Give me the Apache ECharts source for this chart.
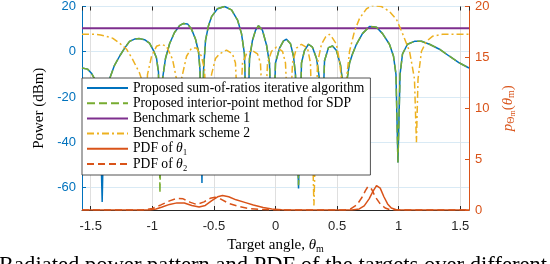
<!DOCTYPE html>
<html><head><meta charset="utf-8">
<script src="https://cdn.jsdelivr.net/npm/echarts@6/dist/echarts.min.js"></script>
<style>html,body{margin:0;padding:0;background:#fff}#c{width:550px;height:264px}</style>
</head><body><div id="c"></div>
<script>
// ---------- data ----------
const angleMin = -1.5708, angleMax = 1.5708;
const xTickLabels = [-1.5, -1, -0.5, 0, 0.5, 1, 1.5];
const leftTickLabels = [-60, -40, -20, 0, 20];
const rightTickLabels = [0, 5, 10, 15, 20];

const legendNames = [
  'Proposed sum-of-ratios iterative algorithm',
  'Proposed interior-point method for SDP',
  'Benchmark scheme 1',
  'Benchmark scheme 2',
  'PDF of θ₁',
  'PDF of θ₂'
];

// angles (rad) at which the proposed patterns were read
const sorAngles = [-1.5708,-1.526,-1.494,-1.469,-1.445,-1.425,-1.407,-1.392,-1.372,-1.347,-1.307,-1.266,-1.226,-1.185,-1.144,-1.104,-1.063,-1.023,-0.990,-0.966,-0.950,-0.938,-0.925,-0.917,-0.893,-0.860,-0.820,-0.779,-0.747,-0.714,-0.682,-0.649,-0.625,-0.613,-0.597,-0.584,-0.568,-0.544,-0.519,-0.471,-0.414,-0.357,-0.308,-0.276,-0.252,-0.231,-0.211,-0.187,-0.162,-0.138,-0.106,-0.073,-0.049,-0.024,0,0.032,0.065,0.089,0.122,0.146,0.162,0.187,0.211,0.235,0.268,0.300,0.333,0.357,0.373,0.398,0.430,0.463,0.495,0.528,0.548,0.560,0.576,0.601,0.625,0.657,0.706,0.763,0.820,0.869,0.925,0.958,0.978,0.994,1.011,1.031,1.071,1.128,1.185,1.250,1.331,1.412,1.494,1.5708];
// power (dBm), proposed sum-of-ratios
const sorPower = [-7.2,-7.7,-9.5,-12,-17,-26,-66.5,-27,-17,-12,-6,-2,1.5,4.6,5.6,5.8,5.3,3.8,0.5,-2.8,-9,-53,-20,-12,-3,3.5,8.5,11.5,12.5,12.3,10,5.5,0,-8,-58,-8,5,11.5,15.5,19,20,18.5,14,8,-1,-45,-3,5,9.5,11.5,9.5,3,-5,-45,-5,1.5,4.8,5.5,3.5,-2,-10,-60.5,-5,0.5,3.3,2,-3,-12,-42,-4,1.8,2.5,0.5,-6,-15,-40,-14,-5,-1,3.3,8,11.2,10.8,8,3.3,-2,-10,-49,-10,-1,3.3,4.6,4.6,3.3,1.1,-2,-5,-7.2];
// power (dBm), proposed interior-point SDP
const sdpPower = [-7.2,-7.7,-9.5,-12,-17,-26,-50,-27,-17,-12,-6,-2,1.5,4.6,5.6,5.8,5.3,3.8,0.5,-2.8,-9,-62.5,-20,-12,-3,3.5,8.5,11.5,12.5,12.3,10,5.5,0,-8,-50,-8,5,11.5,15.5,19,20,18.5,14,8,-1,-45,-3,5,9.5,11.5,9.5,3,-5,-45,-5,1.5,4.8,5.5,3.5,-2,-10,-59,-5,0.5,3.3,2,-3,-12,-42,-4,1.8,2.5,0.5,-6,-15,-40,-14,-5,-1,3.3,8,11.2,10.8,8,3.3,-2,-10,-49,-10,-1,3.3,4.6,4.6,3.3,1.1,-2,-5,-7.2];

// benchmark scheme 1 (flat)
const bench1Angles = [-1.5708, 1.5708];
const bench1Power = [10.4, 10.4];

// benchmark scheme 2
const bench2Angles = [-1.5708,-1.469,-1.420,-1.372,-1.323,-1.266,-1.209,-1.161,-1.104,-1.088,-1.063,-1.039,-1.006,-0.966,-0.925,-0.885,-0.836,-0.804,-0.783,-0.763,-0.722,-0.682,-0.641,-0.601,-0.576,-0.552,-0.519,-0.487,-0.455,-0.398,-0.349,-0.325,-0.296,-0.268,-0.235,-0.195,-0.146,-0.122,-0.093,-0.065,-0.032,0.008,0.057,0.081,0.110,0.138,0.170,0.211,0.260,0.284,0.312,0.341,0.373,0.406,0.438,0.463,0.495,0.519,0.536,0.552,0.576,0.601,0.641,0.682,0.739,0.787,0.860,0.925,0.982,1.031,1.088,1.112,1.128,1.144,1.157,1.185,1.226,1.274,1.356,1.5708];
const bench2Power = [7.7,7.7,7.4,6.8,6,3.8,1.1,-3.3,-9.4,-12,-40,-10,-2,2.4,3.3,2.4,-3.3,-12,-40,-12,-2,1.6,1.6,-2,-8,-40,-10,-3,-1,0.7,-1,-5,-40,-5,-1,0.7,-1,-5,-40,-5,0.2,2,0.2,-5,-40,-5,1.6,3.3,1.6,-5,-68,-5,3.3,6.5,7.7,6,3.3,-4,-12,-40,-12,0.2,9,14.7,19,20.4,20,17.8,14.3,8.1,0.2,-7,-12,-40,-12,0.2,4.6,6.8,7.7,7.7];

// PDF of theta_1
const pdf1Angles = [-1.5708,-1.02,-0.97,-0.92,-0.86,-0.80,-0.74,-0.68,-0.62,-0.57,-0.52,-0.47,-0.43,-0.38,-0.32,-0.25,-0.18,-0.10,-0.03,0.05,0.12,0.62,0.68,0.72,0.76,0.79,0.82,0.85,0.88,0.91,0.94,0.98,1.02,1.5708];
const pdf1Values = [0,0,0.1,0.3,0.55,0.7,0.68,0.45,0.3,0.45,0.9,1.3,1.42,1.3,1.0,0.75,0.5,0.25,0.1,0.02,0,0,0.1,0.4,1.1,1.8,2.4,2.15,1.3,0.6,0.2,0.03,0,0];
// PDF of theta_2
const pdf2Angles = [-1.5708,-1.08,-1.0,-0.93,-0.86,-0.80,-0.75,-0.69,-0.64,-0.58,-0.53,-0.49,-0.44,-0.38,-0.30,-0.22,-0.12,-0.02,0.56,0.61,0.66,0.70,0.73,0.75,0.78,0.81,0.85,0.89,0.93,0.97,1.5708];
const pdf2Values = [0,0,0.15,0.5,0.9,1.15,1.1,0.75,0.55,0.8,1.15,1.25,1.05,0.65,0.35,0.15,0.05,0,0,0.1,0.5,1.2,1.9,2.3,2.05,1.3,0.6,0.2,0.03,0,0];

const captionText = 'Radiated power pattern and PDF of the targets over different';

// ---------- chart ----------
const zip = (a, b) => a.map((x, i) => [x, b[i]]);
const near = (arr, v) => arr.some(t => Math.abs(t - v) < 1e-6);
const serif = 'Liberation Serif';
const blue = '#0072BD', green = '#77AC30', purple = '#7E2F8E', yellow = '#EDB120', orange = '#D95319';

const legendRich = {
  r: {fontFamily: serif, fontSize: 13.6, lineHeight: 12},
  t: {fontFamily: serif, fontStyle: 'italic', fontSize: 13.6, lineHeight: 12}
};

const chart = echarts.init(document.getElementById('c'), null, {renderer: 'canvas'});
chart.setOption({
  animation: false,
  backgroundColor: '#fff',
  grid: {left: 82, right: 81, top: 5, bottom: 54, containLabel: false},
  xAxis: [{
    type: 'value', min: angleMin, max: angleMax, splitNumber: 6, position: 'bottom',
    name: 'Target angle, {t|θ}{s|m}', nameLocation: 'middle', nameGap: 27,
    nameTextStyle: {fontFamily: serif, fontSize: 15, color: '#000',
      rich: {t: {fontFamily: serif, fontStyle: 'italic', fontSize: 15}, s: {fontFamily: serif, fontSize: 10, padding: [7, 0, 0, 0]}}},
    axisLine: {show: true, onZero: false, lineStyle: {color: '#262626', width: 1}},
    axisTick: {show: true, inside: true, length: 4, lineStyle: {color: '#262626'}},
    axisLabel: {color: '#262626', fontFamily: 'Liberation Sans', fontSize: 13, margin: 10,
      showMinLabel: false, showMaxLabel: false,
      formatter: v => near(xTickLabels, v) ? String(xTickLabels.find(t => Math.abs(t - v) < 1e-6)) : ''},
    splitLine: {show: true, lineStyle: {color: '#dfdfdf', width: 1}}
  }, {
    type: 'value', min: angleMin, max: angleMax, splitNumber: 6, position: 'top',
    axisLine: {show: false, onZero: false},
    axisTick: {show: true, inside: true, length: 4, lineStyle: {color: '#262626'}},
    axisLabel: {show: false}, splitLine: {show: false}
  }],
  yAxis: [{
    type: 'value', min: -70, max: 20, splitNumber: 5, position: 'left',
    name: 'Power (dBm)', nameLocation: 'middle', nameGap: 32, nameRotate: 90,
    nameTextStyle: {fontFamily: serif, fontSize: 15, color: '#000'},
    axisLine: {show: true, onZero: false, lineStyle: {color: blue, width: 1}},
    axisTick: {show: true, inside: true, length: 4, lineStyle: {color: blue}},
    axisLabel: {color: blue, fontFamily: 'Liberation Sans', fontSize: 13, margin: 6,
      showMinLabel: false,
      formatter: v => near(leftTickLabels, v) ? String(Math.round(v)) : ''},
    splitLine: {show: true, lineStyle: {color: '#d9eaf5', width: 1}}
  }, {
    type: 'value', min: 0, max: 20, interval: 5, position: 'right',
    name: '{p|p}{s|Θ}{ss|m}{n|(}{t|θ}{s|m}{n|)}', nameLocation: 'middle', nameGap: 28, nameRotate: 90,
    nameTextStyle: {fontFamily: serif, fontSize: 15, color: orange,
      rich: {
        p: {fontFamily: serif, fontStyle: 'italic', fontSize: 15, color: orange},
        n: {fontFamily: serif, fontSize: 15, color: orange},
        t: {fontFamily: serif, fontStyle: 'italic', fontSize: 15, color: orange},
        s: {fontFamily: serif, fontSize: 10, color: orange, padding: [7, 0, 0, 0]},
        ss: {fontFamily: serif, fontSize: 8, color: orange, padding: [11, 0, 0, 0]}
      }},
    axisLine: {show: true, onZero: false, lineStyle: {color: orange, width: 1}},
    axisTick: {show: true, inside: true, length: 4, lineStyle: {color: orange}},
    axisLabel: {color: orange, fontFamily: 'Liberation Sans', fontSize: 13, margin: 6,
      formatter: v => near(rightTickLabels, v) ? String(v) : ''},
    splitLine: {show: false}
  }],
  legend: {
    orient: 'vertical', left: 82, top: 78,
    itemWidth: 41, itemHeight: 12, itemGap: 1.2,
    padding: [3, 6, 4, 4],
    backgroundColor: '#fff', borderColor: '#262626', borderWidth: 0.8, borderRadius: 0,
    itemStyle: {opacity: 0},
    textStyle: {fontFamily: serif, fontSize: 13.6, color: '#000', lineHeight: 12, rich: legendRich},
    formatter: name => /θ/.test(name) ? name.replace(/^(.*)θ(.)$/, '{r|$1}{t|θ}{r|$2}') : '{r|' + name + '}',
    data: legendNames,
    selectedMode: false
  },
  series: [{
    name: legendNames[0], type: 'line', xAxisIndex: 0, yAxisIndex: 0, symbol: 'none', z: 2,
    data: zip(sorAngles, sorPower),
    lineStyle: {color: blue, width: 1.5}, itemStyle: {color: blue}
  }, {
    name: legendNames[1], type: 'line', xAxisIndex: 0, yAxisIndex: 0, symbol: 'none', z: 3,
    data: zip(sorAngles, sdpPower),
    lineStyle: {color: green, width: 1.5, type: [8, 4]}, itemStyle: {color: green}
  }, {
    name: legendNames[2], type: 'line', xAxisIndex: 0, yAxisIndex: 0, symbol: 'none', z: 2,
    data: zip(bench1Angles, bench1Power),
    lineStyle: {color: purple, width: 2}, itemStyle: {color: purple}
  }, {
    name: legendNames[3], type: 'line', xAxisIndex: 0, yAxisIndex: 0, symbol: 'none', z: 3,
    data: zip(bench2Angles, bench2Power),
    lineStyle: {color: yellow, width: 1.5, type: [7, 3, 2, 3]}, itemStyle: {color: yellow}
  }, {
    name: legendNames[4], type: 'line', xAxisIndex: 0, yAxisIndex: 1, symbol: 'none', z: 3,
    data: zip(pdf1Angles, pdf1Values),
    lineStyle: {color: orange, width: 1.5}, itemStyle: {color: orange}
  }, {
    name: legendNames[5], type: 'line', xAxisIndex: 0, yAxisIndex: 1, symbol: 'none', z: 3,
    data: zip(pdf2Angles, pdf2Values),
    lineStyle: {color: orange, width: 1.5, type: [7, 4]}, itemStyle: {color: orange}
  }],
  graphic: [{
    type: 'text', left: -1, top: 255, silent: true,
    style: {text: captionText, font: '22.6px "Liberation Serif"', fill: '#000'}
  }]
});
</script></body></html>
